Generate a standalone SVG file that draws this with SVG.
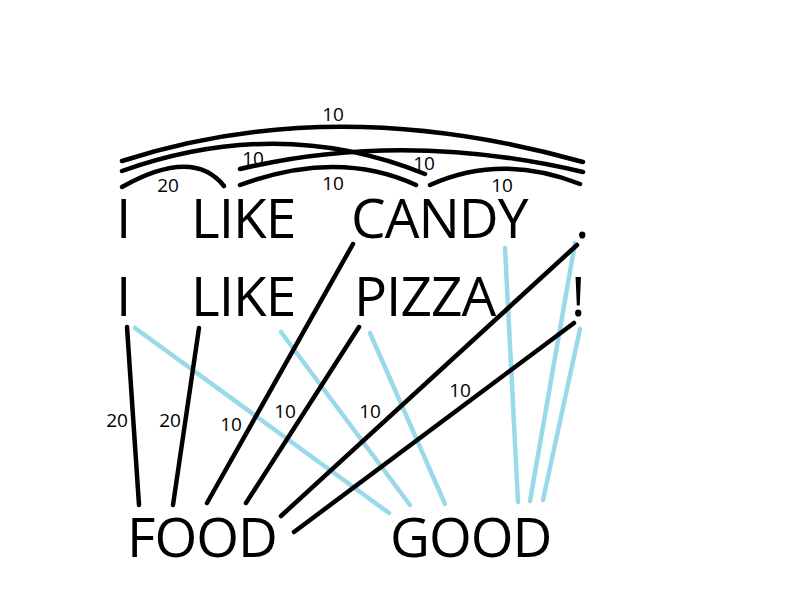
<svg xmlns="http://www.w3.org/2000/svg" width="800" height="600" viewBox="0 0 800 600">
<style>
.w{font-family:"Open Sans","Liberation Sans",sans-serif;font-size:55px;letter-spacing:-1px;fill:#000}
.l{font-family:"Open Sans","Liberation Sans",sans-serif;font-size:19px;fill:#000;text-anchor:middle}
.k{stroke:#000;stroke-width:4.5;fill:none;stroke-linecap:round}
.b{stroke:#99d9ea;stroke-width:4.5;fill:none;stroke-linecap:round}
</style>
<rect width="800" height="600" fill="#fff"/>
<g id="connectors">
<path class="k" d="M122,161 Q335,92 583,162"/>
<path class="k" d="M122,171 Q280,115 425,174"/>
<path class="k" d="M240,169 Q405,130 583,172"/>
<path class="k" d="M122,187 Q193,147 224,186"/>
<path class="k" d="M240,185 Q338,149 416,185"/>
<path class="k" d="M430,185 Q501,153 580,184"/>
<line class="b" x1="135" y1="328" x2="389" y2="513"/>
<line class="b" x1="281" y1="332" x2="410" y2="505"/>
<line class="b" x1="370" y1="333" x2="445" y2="504"/>
<line class="b" x1="505" y1="248" x2="518" y2="502"/>
<line class="b" x1="575" y1="243" x2="530" y2="501"/>
<line class="b" x1="580" y1="329" x2="543" y2="500"/>
<line class="k" x1="127" y1="327" x2="139" y2="505"/>
<line class="k" x1="199" y1="328" x2="173" y2="505"/>
<line class="k" x1="353" y1="244" x2="207" y2="503"/>
<line class="k" x1="359" y1="327" x2="246" y2="503"/>
<line class="k" x1="577" y1="245" x2="281" y2="516"/>
<line class="k" x1="574" y1="323" x2="294" y2="532"/>
<text class="l" x="333" y="121">10</text>
<text class="l" x="253" y="165">10</text>
<text class="l" x="424" y="170">10</text>
<text class="l" x="168" y="192">20</text>
<text class="l" x="333" y="190">10</text>
<text class="l" x="502" y="192">10</text>
<text class="l" x="117" y="427">20</text>
<text class="l" x="170" y="427">20</text>
<text class="l" x="231" y="431">10</text>
<text class="l" x="285" y="418">10</text>
<text class="l" x="370" y="418">10</text>
<text class="l" x="460" y="397">10</text>
</g>
<g id="i1"><text class="w" x="116" y="238">I</text></g>
<g id="like1"><text class="w" x="191" y="238">LIKE</text></g>
<g id="candy"><text class="w" x="351" y="238">CANDY</text></g>
<g id="dot"><text class="w" x="575" y="238">.</text></g>
<g id="i2"><text class="w" x="116" y="316">I</text></g>
<g id="like2"><text class="w" x="191" y="316">LIKE</text></g>
<g id="pizza"><text class="w" x="354" y="316">PIZZA</text></g>
<g id="excl"><text class="w" x="571" y="316">!</text></g>
<g id="food"><text class="w" x="127" y="557">FOOD</text></g>
<g id="good"><text class="w" x="390" y="557">GOOD</text></g>
</svg>
